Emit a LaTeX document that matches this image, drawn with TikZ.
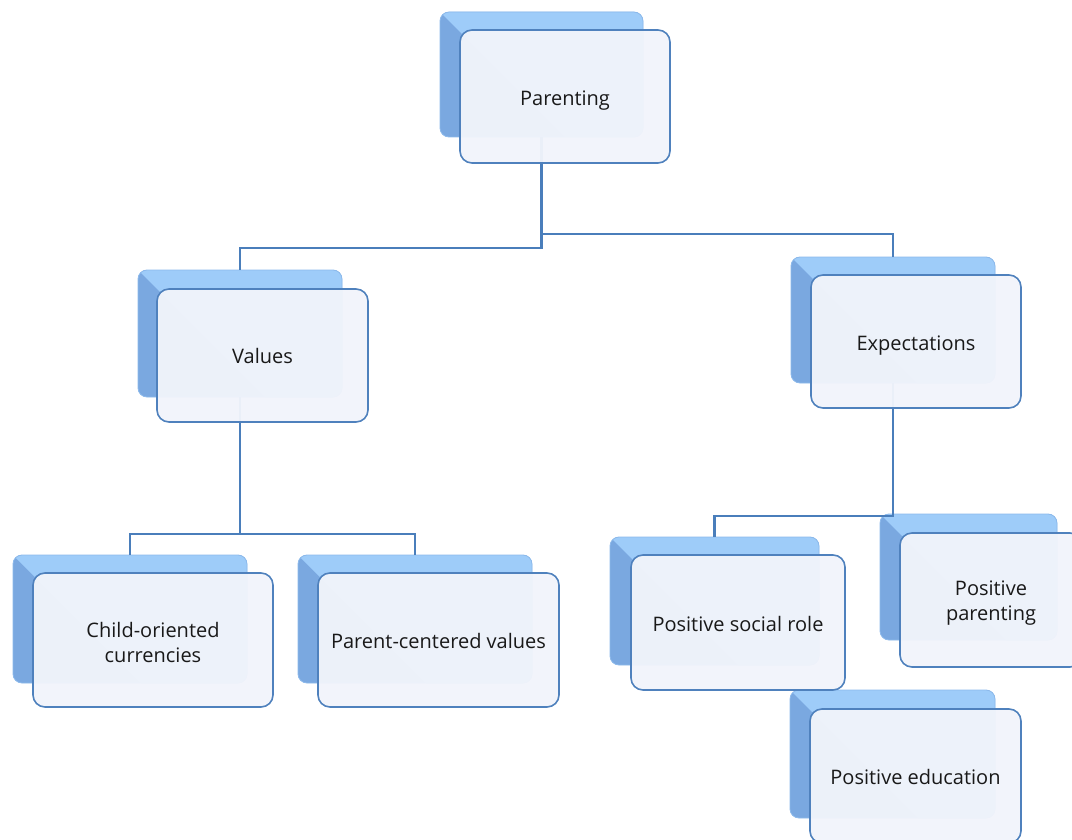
\documentclass[tikz,border=0pt]{standalone}
\usepackage{fontspec}
\setmainfont{Open Sans}
\definecolor{bdark}{RGB}{122,168,224}
\definecolor{blight}{RGB}{158,204,249}
\definecolor{bedge}{RGB}{140,185,235}
\definecolor{fline}{RGB}{79,129,189}
\definecolor{ffill}{RGB}{241,244,251}
\definecolor{conn}{RGB}{74,126,187}
\newcommand\dropby[2]{\raisebox{-#1}[\height][\depth]{\begin{tabular}{@{}c@{}}#2\end{tabular}}}
\begin{document}
\begin{tikzpicture}[x=1pt,y=-1pt,
  backbox/.style={minimum width=#1, inner sep=0pt, rounded corners=9pt, fill=bdark, draw=bedge, line width=0.8pt,
    path picture={\fill[blight, sharp corners] (path picture bounding box.north west) -- ++(400pt,-400pt) -- ++(0pt,400pt) -- cycle;}},
  frontbox/.style={minimum width=#1, inner sep=2pt, rounded corners=12pt, fill=ffill, fill opacity=0.96, text opacity=1, draw=fline, line width=1.6pt, align=center, text=black!90, font=\fontsize{20}{25}\selectfont},
  connline/.style={draw=conn, line width=2.7pt}]
\useasboundingbox (0,0) rectangle (1072,840);
\clip (0,0) rectangle (1072,840);
% back boxes
\node[backbox=203pt, minimum height=125pt] (pb) at (541.5,74.5) {};
\node[backbox=204pt, minimum height=127pt] (vb) at (240,333.5) {};
\node[backbox=204pt, minimum height=126pt] (eb) at (893,320) {};
\node[backbox=234pt, minimum height=128pt] (cb) at (130,619) {};
\node[backbox=234pt, minimum height=128pt] (ppb) at (415,619) {};
\node[backbox=209pt, minimum height=128pt] (sb) at (714.5,601) {};
\node[backbox=177pt, minimum height=126pt] (pab) at (968.5,577) {};
\node[backbox=205pt, minimum height=128pt] (edb) at (892.5,754) {};
% connectors
\draw[connline] (pb.south) -- (pb.south |- 0,248) -| (vb.north);
\draw[connline] (pb.south |- 0,234) -| (eb.north);
\draw[connline] (vb.south) -- (vb.south |- 0,534) -| (cb.north);
\draw[connline] (vb.south |- 0,534) -| (ppb.north);
\draw[connline] (eb.south) -- (eb.south |- 0,516) -| (sb.north);
% front boxes
\node[frontbox=210pt, minimum height=133pt] (pf) at (565,96.5) {\dropby{4pt}{Parenting}};
\node[frontbox=211pt, minimum height=133pt] (vf) at (262.5,355.5) {\dropby{2.5pt}{Values}};
\node[frontbox=210pt, minimum height=133pt] (ef) at (916,341.5) {\dropby{4pt}{Expectations}};
\node[frontbox=240pt, minimum height=134pt] (cf) at (153,640) {\dropby{4.5pt}{Child-oriented\\currencies}};
\node[frontbox=241pt, minimum height=134pt] (ppf) at (438.5,640) {\dropby{3pt}{Parent-centered values}};
\node[frontbox=214pt, minimum height=135pt] (sf) at (738,622.5) {\dropby{4pt}{Positive social role}};
\node[frontbox=182pt, minimum height=134pt] (paf) at (991,600) {\dropby{3pt}{Positive\\parenting}};
\node[frontbox=211pt, minimum height=134pt] (edf) at (915.5,776) {\dropby{3pt}{Positive education}};
\end{tikzpicture}
\end{document}
